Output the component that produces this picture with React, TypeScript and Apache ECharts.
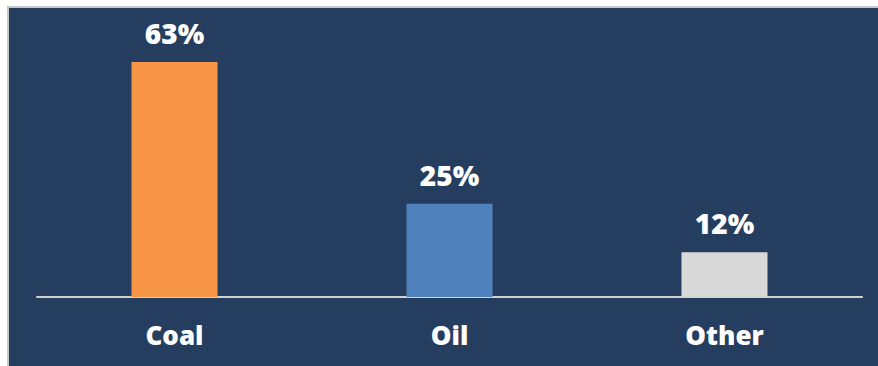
import React, { useEffect, useRef } from "react";
import * as echarts from "echarts";

const categories = ["Coal", "Oil", "Other"];
const values = [63, 25, 12];
const barColors = ["#f79646", "#4f81bd", "#d9d9d9"];

export default function App() {
  const ref = useRef<HTMLDivElement>(null);
  useEffect(() => {
    if (!ref.current) return;
    const chart = echarts.init(ref.current, undefined, { renderer: "svg" });
    chart.setOption({
      animation: false,
      backgroundColor: "#ffffff",
      graphic: [
        { type: "rect", shape: { x: 7, y: 6, width: 871, height: 360 }, style: { fill: "#c8c8c8" }, z: -10, silent: true },
        { type: "rect", shape: { x: 9, y: 8, width: 869, height: 358 }, style: { fill: "#253e5f" }, z: -9, silent: true },
      ],
      grid: { left: 37, right: 16, top: 36, bottom: 69 },
      xAxis: {
        type: "category",
        data: categories,
        axisTick: { show: false },
        axisLine: { lineStyle: { color: "#d0d0d0", width: 2 } },
        axisLabel: {
          color: "#ffffff",
          fontFamily: "Open Sans",
          fontWeight: 800,
          fontSize: 26,
          margin: 25,
        },
      },
      yAxis: {
        type: "value",
        min: 0,
        max: 70,
        show: false,
        splitLine: { show: false },
      },
      series: [
        {
          type: "bar",
          barWidth: 86,
          data: values.map((v, i) => ({ value: v, itemStyle: { color: barColors[i] } })),
          label: {
            show: true,
            position: "top",
            distance: 15,
            formatter: "{c}%",
            color: "#ffffff",
            fontFamily: "Open Sans",
            fontWeight: 800,
            fontSize: 28,
          },
        },
      ],
    });
    return () => chart.dispose();
  }, []);
  return (
    <div
      ref={ref}
      style={{ position: "absolute", left: 0, top: 0, width: 878, height: 366 }}
    />
  );
}
